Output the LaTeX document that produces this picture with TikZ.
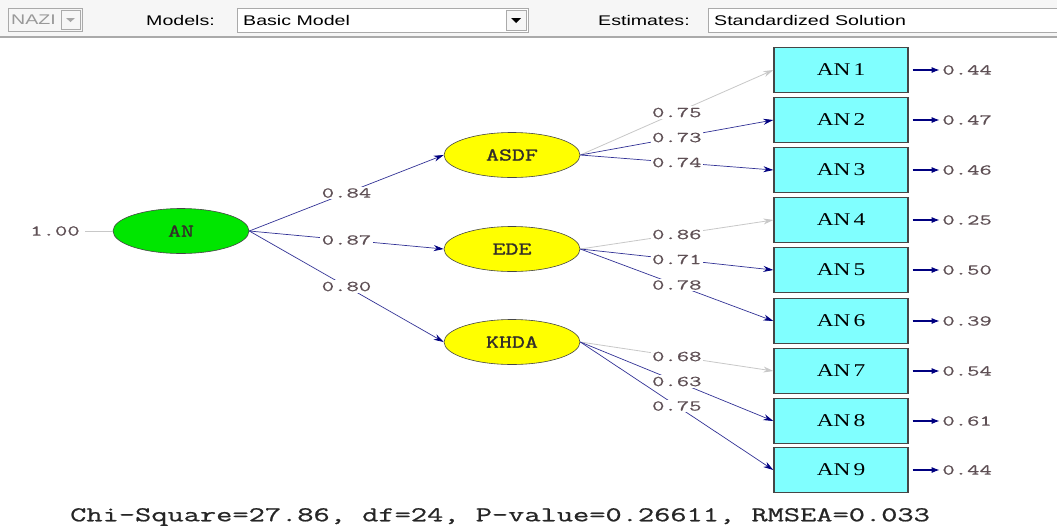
\documentclass[tikz,border=0pt]{standalone}
\usepackage{fontspec}
\setmainfont{Liberation Serif}
\usetikzlibrary{arrows.meta,shapes.geometric}
% wide screen fonts
\newfontfamily\uifont[FakeStretch=1.4]{Liberation Sans}
\newfontfamily\estfont[FakeStretch=1.6,FakeBold=0.6]{Latin Modern Mono}
\newfontfamily\fitfont[FakeStretch=1.5,FakeBold=0.8]{Latin Modern Mono}
\newfontfamily\latfont[FakeStretch=1.4,FakeBold=1.6]{Latin Modern Mono}
\newfontfamily\obsfont[FakeStretch=1.3]{Liberation Serif}
\definecolor{pathblue}{RGB}{50,50,150}
\definecolor{headblue}{RGB}{0,0,128}
\definecolor{fixgray}{RGB}{200,200,200}
\definecolor{numcol}{RGB}{95,80,85}
\definecolor{latgreen}{RGB}{0,230,0}
\definecolor{latyellow}{RGB}{255,255,0}
\definecolor{obscyan}{RGB}{128,255,255}
\definecolor{edgegray}{RGB}{70,70,70}
\definecolor{barbg}{RGB}{246,246,246}
\definecolor{barline}{RGB}{170,170,170}
\tikzset{
  latent/.style={ellipse, draw=edgegray, line width=0.6pt, minimum width=136pt,
    minimum height=45pt, inner sep=0pt, text=black!85!olive,
    font=\latfont\fontsize{18}{18}\selectfont},
  observed/.style={rectangle, draw=edgegray, line width=1.4pt, fill=obscyan,
    minimum width=134pt, minimum height=45pt, inner sep=0pt,
    font=\obsfont\fontsize{18}{18}\selectfont},
  loading/.style={draw=pathblue, line width=0.7pt,
    -{Stealth[length=10pt,width=6pt,color=headblue]}},
  fixedpath/.style={draw=fixgray, line width=0.8pt,
    -{Stealth[length=10pt,width=6pt]}},
  coef/.style={fill=white, inner sep=1.5pt, text=numcol,
    font=\estfont\fontsize{15}{15}\selectfont},
  resid/.style={draw=headblue, line width=1.2pt,
    -{Latex[length=8pt,width=6pt]}},
  uitext/.style={font=\uifont\fontsize{14}{14}\selectfont, inner sep=0pt, anchor=west},
  combo/.style={fill=white, draw=barline, line width=0.8pt},
}
\begin{document}
\begin{tikzpicture}[x=1pt, y=-1pt]
\useasboundingbox (0,0) rectangle (1057,528);
\fill[white] (0,0) rectangle (1057,528);

% ---- toolbar ----
\fill[barbg] (0,0) rectangle (1057,36);
\draw[barline, line width=1.5pt] (0,37) -- (1057,37);
% disabled group box
\draw[barline, fill=barbg, line width=0.8pt] (8,8) rectangle (82,31);
\node[uitext, text=black!40] (grp) at (11,20) {NAZI};
\draw[barline, line width=0.8pt] (61,10) rectangle (80,29);
\fill[black!35] (66,18) -- (75,18) -- (70.5,22) -- cycle;
% model selector
\node[uitext] (mlab) at (146,20) {Models:};
\draw[combo] (237,8) rectangle (528,32);
\node[uitext] (mval) at (243,20) {Basic Model};
\draw[barline, fill=barbg, line width=0.8pt] (506,10) rectangle (526,30);
\fill[black] (511,18) -- (521,18) -- (516,23) -- cycle;
% estimate selector
\node[uitext] (elab) at (598,20) {Estimates:};
\draw[combo] (708,8) rectangle (1065,32);
\node[uitext] (eval) at (714,20) {Standardized Solution};

% ---- latent variables ----
\node[latent, fill=latgreen] (AN) at (181,231) {AN};
\node[latent, fill=latyellow] (ASDF) at (512,155) {ASDF};
\node[latent, fill=latyellow] (EDE) at (512,249) {EDE};
\node[latent, fill=latyellow] (KHDA) at (512,342) {KHDA};

% ---- observed variables ----
\foreach \i/\y in {1/70,2/120,3/170,4/220,5/270,6/321,7/371,8/421,9/470}{
  \node[observed] (I\i) at (841,\y) {AN\,\i};
}

% variance of AN
\node[coef, fill=none] (varAN) at (55,231) {1.00};
\draw[fixgray, line width=0.8pt] (varAN.east) ++(4,0) coordinate (vs) -- (AN.west);

% ---- structural paths ----
\draw[loading] (AN.east) -- (ASDF.west);
\draw[loading] (AN.east) -- (EDE.west);
\draw[loading] (AN.east) -- (KHDA.west);

% ---- measurement paths ----
\draw[fixedpath] (ASDF.east) -- (I1.west);
\draw[loading] (ASDF.east) -- (I2.west);
\draw[loading] (ASDF.east) -- (I3.west);
\draw[fixedpath] (EDE.east) -- (I4.west);
\draw[loading] (EDE.east) -- (I5.west);
\draw[loading] (EDE.east) -- (I6.west);
\draw[fixedpath] (KHDA.east) -- (I7.west);
\draw[loading] (KHDA.east) -- (I8.west);
\draw[loading] (KHDA.east) -- (I9.west);

% ---- coefficients on the paths ----
\path (AN.east) -- node[coef] {0.84} (ASDF.west);
\path (AN.east) -- node[coef] {0.87} (EDE.west);
\path (AN.east) -- node[coef] {0.80} (KHDA.west);
\path (ASDF.east) -- node[coef] {0.75} (I1.west);
\path (ASDF.east) -- node[coef] {0.73} (I2.west);
\path (ASDF.east) -- node[coef] {0.74} (I3.west);
\path (EDE.east) -- node[coef] {0.86} (I4.west);
\path (EDE.east) -- node[coef] {0.71} (I5.west);
\path (EDE.east) -- node[coef] {0.78} (I6.west);
\path (KHDA.east) -- node[coef] {0.68} (I7.west);
\path (KHDA.east) -- node[coef] {0.63} (I8.west);
\path (KHDA.east) -- node[coef] {0.75} (I9.west);

% ---- error variances ----
\foreach \i/\v in {1/0.44,2/0.47,3/0.46,4/0.25,5/0.50,6/0.39,7/0.54,8/0.61,9/0.44}{
  \node[coef, fill=none, anchor=west] (e\i) at ([xshift=32pt]I\i.east) {\v};
  \draw[resid] ([xshift=4pt]I\i.east) -- ([xshift=-1pt]e\i.west);
}

% ---- fit statistics ----
\node[anchor=west, inner sep=0pt, text=black!85,
  font=\fitfont\fontsize{21}{21}\selectfont] (fit) at (70,517)
  {Chi-Square=27.86, df=24, P-value=0.26611, RMSEA=0.033};
\end{tikzpicture}
\end{document}
